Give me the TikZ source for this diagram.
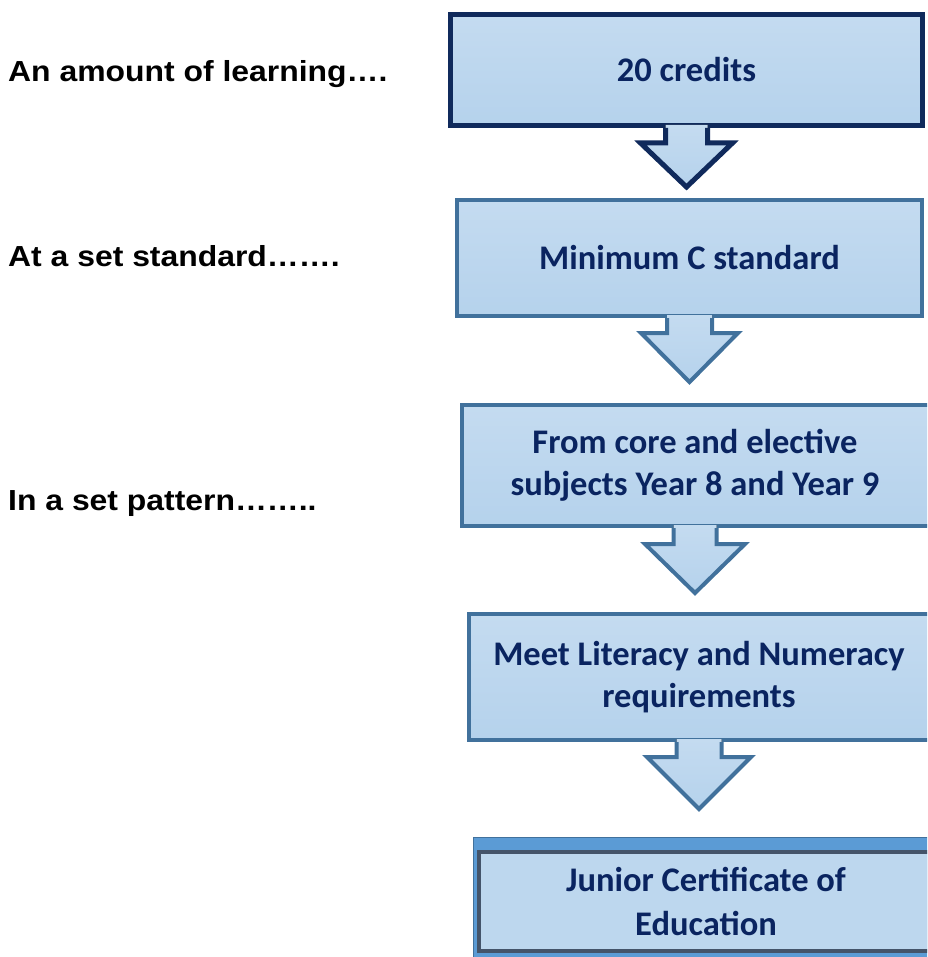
\documentclass[tikz,border=0pt]{standalone}
\usepackage{fontspec}
\setmainfont{Carlito}
\newfontfamily\lblfont[FakeStretch=1.1]{Liberation Sans}
\usetikzlibrary{calc}
\definecolor{boxtop}{HTML}{C4DBF0}
\definecolor{boxbot}{HTML}{B5D2EC}
\definecolor{boxmid}{HTML}{BDD7EE}
\definecolor{navyedge}{HTML}{102A5C}
\definecolor{steeledge}{HTML}{41719C}
\definecolor{txtnavy}{HTML}{0A2460}
\definecolor{midblue}{HTML}{5B9BD5}
\definecolor{slateedge}{HTML}{44546A}
\tikzset{
  stepbox/.style={rectangle, draw=steeledge, line width=4pt, top color=boxtop, bottom color=boxbot,
    font=\bfseries\fontsize{34.5}{42}\selectfont, text=txtnavy, align=center, inner sep=0pt},
  steptext/.style={font=\bfseries\fontsize{34.5}{42}\selectfont, text=txtnavy, align=center, inner sep=0pt},
  sidelabel/.style={anchor=base west, font=\lblfont\bfseries\fontsize{29}{34}\selectfont, inner sep=0pt, text=black},
}
% #1 attach coordinate, #2 shaft half width, #3 shaft length, #4 head half width, #5 head height, #6 colour, #7 line width
\newcommand\flowarrow[7]{%
  \fill[top color=boxtop, bottom color=boxbot] ($(#1)+(-#2,-3)$) -- ++(0,{#3+3}) -- ++({#2-#4},0)
    -- ++(#4,#5) -- ++(#4,-#5) -- ++({#2-#4},0) -- ++(0,{-#3-3}) -- cycle;
  \draw[draw=#6, line width=#7, line join=miter] ($(#1)+(-#2,0)$) -- ++(0,#3) -- ++({#2-#4},0)
    -- ++(#4,#5) -- ++(#4,-#5) -- ++({#2-#4},0) -- ++(0,-#3);
}
\begin{document}
\begin{tikzpicture}[x=1pt, y=-1pt]
\useasboundingbox (0,0) rectangle (927,957);
\clip (0,0) rectangle (927,957);

\node[sidelabel] (l1) at (8,82) {An amount of learning….};
\node[sidelabel] (l2) at (8,267) {At a set standard…….};
\node[sidelabel] (l3) at (8,510) {In a set pattern……..};

\node[stepbox, draw=navyedge, line width=5pt, minimum width=472pt, minimum height=111pt] (b1) at (686.5,70) {20 credits};
\node[stepbox, minimum width=465pt, minimum height=116pt] (b2) at (689.5,258) {Minimum C standard};

\node[stepbox, minimum width=483pt, minimum height=121pt] (b3) at (703.5,465.5) {};
\node[steptext] (t3) at (695,465.5) {From core and elective\\subjects Year 8 and Year 9};

\node[stepbox, minimum width=476pt, minimum height=126pt] (b4) at (707,677) {};
\node[steptext] (t4) at (699,677) {Meet Literacy and Numeracy\\requirements};

\coordinate (f5a) at (473.5,837.5);
\coordinate (f5b) at (1100,1000);
\coordinate (b5a) at (479,852);
\coordinate (b5b) at (1090,950.5);
\path[fill=midblue] (f5a) rectangle (f5b);
\draw[steeledge, line width=1pt] (f5b |- f5a) -- (f5a) -- (f5a |- f5b);
\path[fill=boxmid] (b5a) rectangle (b5b);
\draw[slateedge, line width=4pt] (b5b |- b5a) -- (b5a) -- (b5a |- b5b) -- (b5b);
\node[steptext, font=\bfseries\fontsize{34.5}{44}\selectfont] (t5) at (706,901) {Junior Certificate of\\Education};

\coordinate (a1) at (b1.south);
\coordinate (a2) at (b2.south);
\coordinate (a3) at (b3.south -| t3);
\coordinate (a4) at (b4.south -| t4);

\flowarrow{a1}{21}{15}{46}{44}{navyedge}{5pt}
\flowarrow{a2}{22.5}{15}{48.5}{49}{steeledge}{4pt}
\flowarrow{a3}{21.5}{16}{50}{49}{steeledge}{4pt}
\flowarrow{a4}{22.5}{15}{52}{52}{steeledge}{4pt}
\end{tikzpicture}
\end{document}
